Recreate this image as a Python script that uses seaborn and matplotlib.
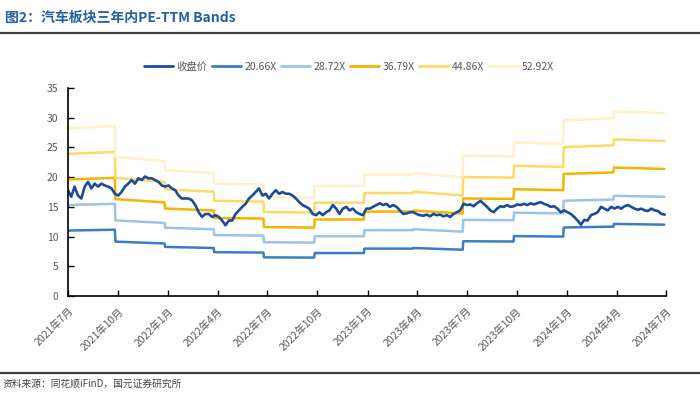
import pandas as pd
import matplotlib.pyplot as plt
import seaborn as sns
from matplotlib.lines import Line2D

# 数据：收盘价（按图读取，约每周一个点）
price = [17.8, 16.7, 18.4, 16.9, 16.4, 18.4, 19.2, 18.1, 18.9, 18.4, 18.9, 18.6, 18.4, 18.1, 17.2,
         16.9, 17.5, 18.4, 18.9, 19.5, 18.9, 19.8, 19.5, 20.1, 19.8, 19.8, 19.5, 19.2, 18.6, 18.4,
         18.6, 18.1, 17.8, 16.9, 16.4,
         16.4, 16.4, 16.1, 15.3, 14.1, 13.3, 13.8, 13.8, 13.3, 13.6, 13.3, 12.7, 11.9, 12.7, 12.7,
         13.8, 14.4, 15.0, 15.5, 16.4, 16.9, 17.5, 18.1, 16.9, 17.2, 16.4, 17.2, 17.8, 17.2, 17.5,
         17.2, 17.2, 16.9, 16.4, 15.8, 15.3,
         15.0, 14.7, 13.8, 13.6, 14.1, 13.6, 14.1, 14.4, 15.3, 14.7, 13.8, 14.7, 15.0, 14.4, 14.7,
         14.1, 13.8, 13.6, 14.7, 14.7, 15.0, 15.3, 15.6, 15.3, 15.5, 15.0, 15.3, 15.0, 14.4, 13.8,
         13.9, 14.1, 14.1, 13.8, 13.6, 13.5,
         13.7, 13.4, 13.8, 13.6, 13.7, 13.4, 13.6, 13.3, 13.8, 14.1, 14.4, 15.5, 15.3, 15.4, 15.1,
         15.6, 16.0, 15.5, 15.0, 14.4, 14.1, 14.7, 15.1, 15.0, 15.3, 15.0, 15.1, 15.4, 15.3, 15.5,
         15.3, 15.6, 15.4, 15.6, 15.8, 15.5,
         15.3, 15.0, 15.1, 14.7, 14.1, 14.4, 14.1, 13.8, 13.3, 12.7, 12.0, 12.8, 12.7, 13.6, 13.8,
         14.1, 15.0, 14.7, 14.4, 15.0, 14.7, 15.0, 14.7, 15.1, 15.3, 15.0, 14.7, 14.5, 14.7, 14.4,
         14.3, 14.7, 14.4, 14.3, 13.8, 13.7]

# EPS(TTM) 每段起止值及换段日期
step_dates = ['2021-07-01', '2021-09-26', '2021-12-26', '2022-03-26', '2022-06-25', '2022-09-26',
              '2022-12-26', '2023-03-26', '2023-06-25', '2023-09-26', '2023-12-26', '2024-03-27',
              '2024-06-28']
eps_start = [0.533, 0.443, 0.400, 0.357, 0.315, 0.350, 0.386, 0.391, 0.446, 0.488, 0.558, 0.587]
eps_end = [0.540, 0.428, 0.391, 0.354, 0.313, 0.350, 0.386, 0.377, 0.444, 0.484, 0.565, 0.581]

multiples = [20.66, 28.72, 36.79, 44.86, 52.92]
band_labels = ['20.66X', '28.72X', '36.79X', '44.86X', '52.92X']
band_colors = ['#3A7CC6', '#9DC3E6', '#F5B400', '#FFD966', '#FFF0C8']
price_color = '#1B4C9C'

# 组装数据
price_df = pd.DataFrame({
    'date': pd.date_range('2021-07-01', '2024-06-28', periods=len(price)),
    'value': price,
})

rows = []
for m, lab in zip(multiples, band_labels):
    for i in range(len(eps_start)):
        d0 = pd.Timestamp(step_dates[i])
        d1 = pd.Timestamp(step_dates[i + 1]) - pd.Timedelta(days=1)
        rows.append({'date': d0, 'value': eps_start[i] * m, 'series': lab})
        rows.append({'date': d1, 'value': eps_end[i] * m, 'series': lab})
band_df = pd.DataFrame(rows)

sns.set_style('ticks')
plt.rcParams['font.family'] = ['Noto Sans CJK SC', 'DejaVu Sans']
plt.rcParams['axes.unicode_minus'] = False

fig = plt.figure(figsize=(7, 4.05), dpi=100)
ax = fig.add_axes([0.097, 0.269, 0.855, 0.514])

for lab, col in zip(band_labels, band_colors):
    sns.lineplot(data=band_df[band_df['series'] == lab], x='date', y='value',
                 color=col, lw=1.8, ax=ax, legend=False)
sns.lineplot(data=price_df, x='date', y='value', color=price_color, lw=1.9, ax=ax, legend=False)

ax.set_xlim(pd.Timestamp('2021-07-01'), pd.Timestamp('2024-07-01'))
ax.set_ylim(0, 35)
ax.set_yticks(range(0, 36, 5))
ax.set_xlabel('')
ax.set_ylabel('')

ticks = pd.date_range('2021-07-01', '2024-07-01', freq='3MS')
ax.set_xticks(ticks)
ax.set_xticklabels([f'{d.year}年{d.month}月' for d in ticks], rotation=45,
                   ha='right', rotation_mode='anchor')
ax.tick_params(axis='both', direction='in', length=4, width=1, colors='black',
               labelcolor='#595959', labelsize=7.5)
ax.tick_params(axis='x', pad=7)
ax.tick_params(axis='y', pad=7)
for s in ['top', 'right']:
    ax.spines[s].set_visible(False)
for s in ['left', 'bottom']:
    ax.spines[s].set_color('black')
    ax.spines[s].set_linewidth(1.2)

handles = [Line2D([], [], color=price_color, lw=2)] + \
          [Line2D([], [], color=c, lw=2) for c in band_colors]
labels = ['收盘价'] + band_labels
fig.legend(handles, labels, loc='center', bbox_to_anchor=(0.498, 0.835), ncol=6, frameon=False,
           fontsize=7.5, handlelength=2.8, columnspacing=0.4, handletextpad=0.35,
           labelcolor='#595959')

# 标题、分隔线和资料来源
fig.text(0.007, 0.955, '图2：汽车板块三年内PE-TTM Bands', fontsize=10, fontweight='bold',
         color='#2360A8', va='center', ha='left')
fig.add_artist(Line2D([0, 1], [0.918, 0.918], color='#404040', lw=1.6))
fig.add_artist(Line2D([0, 1], [0.079, 0.079], color='#404040', lw=1.6))
fig.text(0.003, 0.053, '资料来源：同花顺iFinD，国元证券研究所', fontsize=7, color='#404040',
         va='center', ha='left')

fig.savefig('out.png', dpi=100)
